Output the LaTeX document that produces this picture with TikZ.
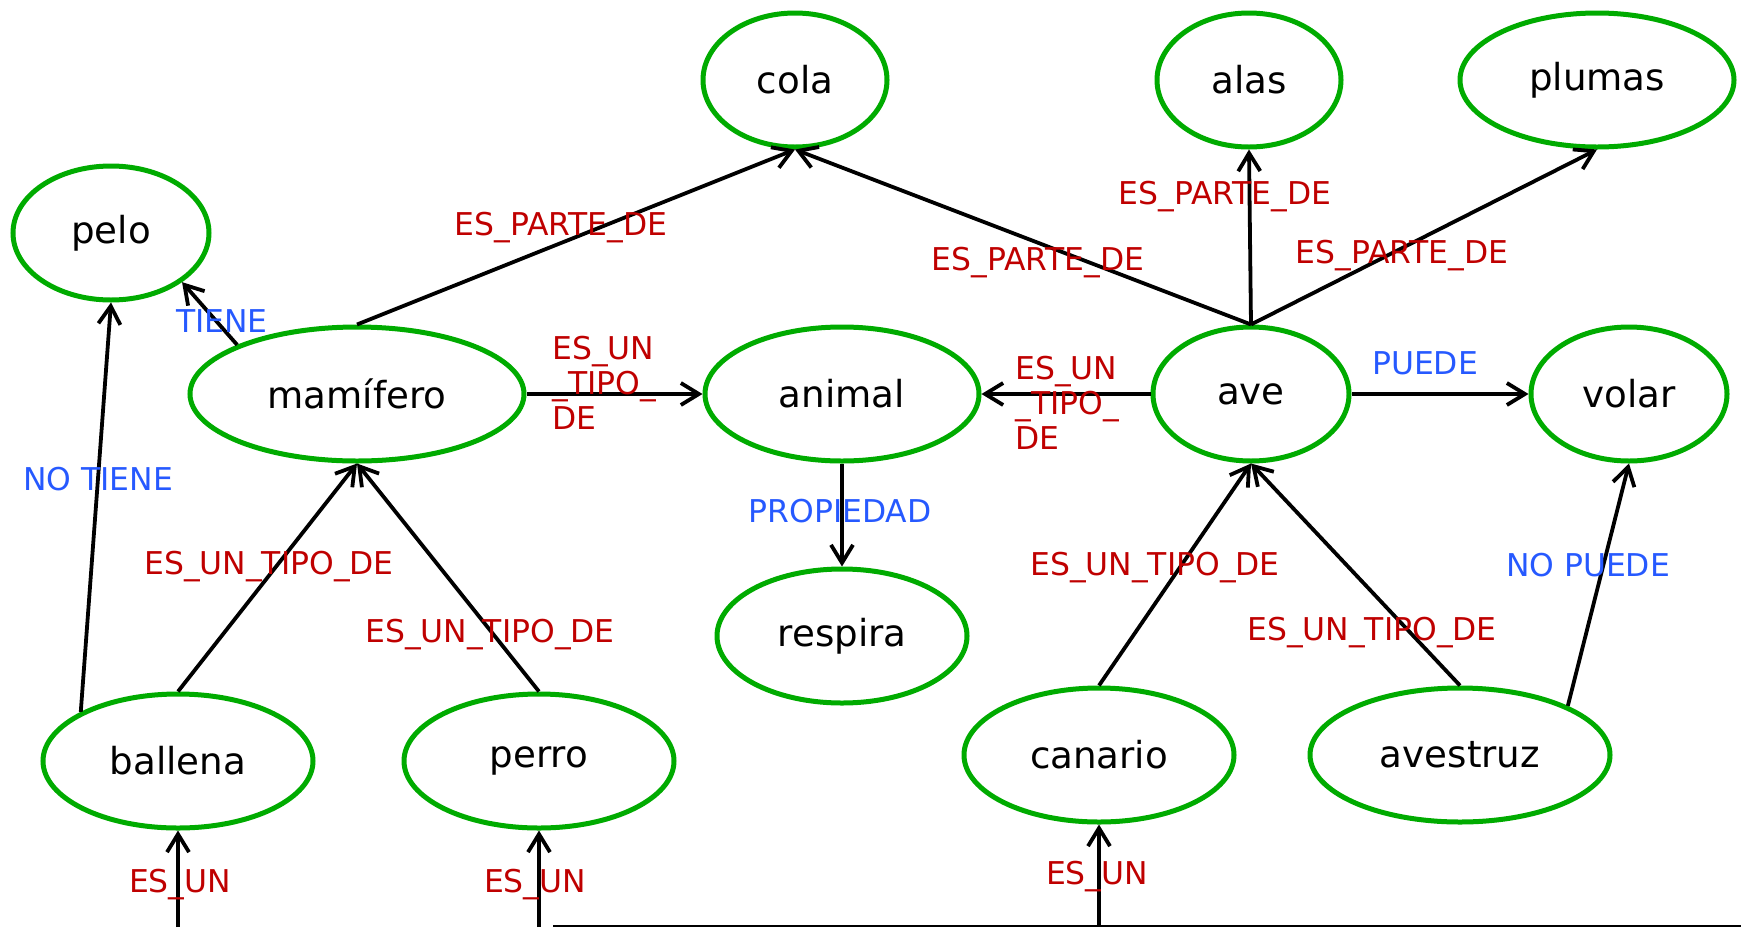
\documentclass[tikz,border=0pt]{standalone}
\usepackage{fontspec}
\setmainfont{DejaVu Sans}
\usetikzlibrary{shapes.geometric,arrows.meta}

\newlength{\du}
\setlength{\du}{0.5pt}

\definecolor{conceptgreen}{rgb}{0.000000, 0.670000, 0.000000}
\definecolor{relred}{rgb}{0.750000, 0.000000, 0.000000}
\definecolor{relblue}{rgb}{0.150000, 0.350000, 1.000000}

\tikzset{
  concept/.style={ellipse, draw=conceptgreen, line width=2.5pt, fill=white, inner sep=0pt,
    minimum height=134\du, font=\fontsize{18.6}{22}\selectfont},
  rel/.style={line width=1.9pt, -{Straight Barb[length=9pt,width=11pt]}},
  redlabel/.style={text=relred, inner sep=0pt, font=\fontsize{15.7}{17.5}\selectfont},
  bluelabel/.style={text=relblue, inner sep=0pt, font=\fontsize{15.7}{17.5}\selectfont},
}

\begin{document}
\begin{tikzpicture}
\pgftransformxscale{1.000000}
\pgftransformyscale{-1.000000}
\useasboundingbox (0\du,0\du) rectangle (1741\du,927\du);
% concepts
\node[concept, minimum width=184\du] (cola) at (795\du,80\du) {cola};
\node[concept, minimum width=184\du] (alas) at (1249\du,80\du) {alas};
\node[concept, minimum width=274\du] (plumas) at (1597\du,80\du) {plumas};
\node[concept, minimum width=196\du] (pelo) at (111\du,233\du) {pelo};
\node[concept, minimum width=334\du] (mamifero) at (357\du,394\du) {mamífero};
\node[concept, minimum width=274\du] (animal) at (842\du,394\du) {animal};
\node[concept, minimum width=196\du] (ave) at (1251\du,394\du) {ave};
\node[concept, minimum width=196\du] (volar) at (1629\du,394\du) {volar};
\node[concept, minimum width=250\du] (respira) at (842\du,636\du) {respira};
\node[concept, minimum width=270\du] (ballena) at (178\du,761\du) {ballena};
\node[concept, minimum width=270\du] (perro) at (539\du,761\du) {perro};
\node[concept, minimum width=270\du] (canario) at (1099\du,755\du) {canario};
\node[concept, minimum width=300\du] (avestruz) at (1460\du,755\du) {avestruz};
% links leaving the picture
\coordinate (ballenain) at (178\du,927\du);
\coordinate (perroin) at (539\du,927\du);
\coordinate (canarioin) at (1099\du,926\du);
\coordinate (baseleft) at (553\du,926\du);
\coordinate (baseright) at (1741\du,926\du);
% connectors
\draw[rel] (mamifero.north) -- (cola.south);
\draw[rel] (ave.north) -- (cola.south);
\draw[rel] (ave.north) -- (alas.south);
\draw[rel] (ave.north) -- (plumas.south);
\draw[rel] (mamifero.north west) -- (pelo.south east);
\draw[rel] (ballena.north west) -- (pelo.south);
\draw[rel] (mamifero.east) -- (animal.west);
\draw[rel] (ave.west) -- (animal.east);
\draw[rel] (ave.east) -- (volar.west);
\draw[rel] (animal.south) -- (respira.north);
\draw[rel] (ballena.north) -- (mamifero.south);
\draw[rel] (perro.north) -- (mamifero.south);
\draw[rel] (canario.north) -- (ave.south);
\draw[rel] (avestruz.north) -- (ave.south);
\draw[rel] (avestruz.north east) -- (volar.south);
\draw[rel] (ballenain) -- (ballena.south);
\draw[rel] (perroin) -- (perro.south);
\draw[rel] (canarioin) -- (canario.south);
\draw[line width=1pt] (baseleft) -- (baseright);
% labels
\node[redlabel] (l1) at (561\du,228\du) {ES\_PARTE\_DE};
\node[redlabel] (l2) at (1038\du,263\du) {ES\_PARTE\_DE};
\node[redlabel] (l3) at (1225\du,197\du) {ES\_PARTE\_DE};
\node[redlabel] (l4) at (1402\du,256\du) {ES\_PARTE\_DE};
\node[bluelabel] (l5) at (222\du,321\du) {TIENE};
\node[bluelabel] (l6) at (98\du,479\du) {NO TIENE};
\node[redlabel, anchor=north west, align=left] (l7) at (552\du,336\du) {ES\_UN\\\_TIPO\_\\DE};
\node[redlabel, anchor=north west, align=left] (l8) at (1015\du,356\du) {ES\_UN\\\_TIPO\_\\DE};
\node[bluelabel] (l9) at (1425\du,363\du) {PUEDE};
\node[bluelabel] (l10) at (840\du,511\du) {PROPIEDAD};
\node[redlabel] (l11) at (269\du,567\du) {ES\_UN\_TIPO\_DE};
\node[redlabel] (l12) at (490\du,635\du) {ES\_UN\_TIPO\_DE};
\node[redlabel] (l13) at (1155\du,568\du) {ES\_UN\_TIPO\_DE};
\node[redlabel] (l14) at (1372\du,633\du) {ES\_UN\_TIPO\_DE};
\node[bluelabel] (l15) at (1588\du,565\du) {NO PUEDE};
\node[redlabel] (l16) at (180\du,885\du) {ES\_UN};
\node[redlabel] (l17) at (535\du,885\du) {ES\_UN};
\node[redlabel] (l18) at (1097\du,877\du) {ES\_UN};
\end{tikzpicture}
\end{document}
